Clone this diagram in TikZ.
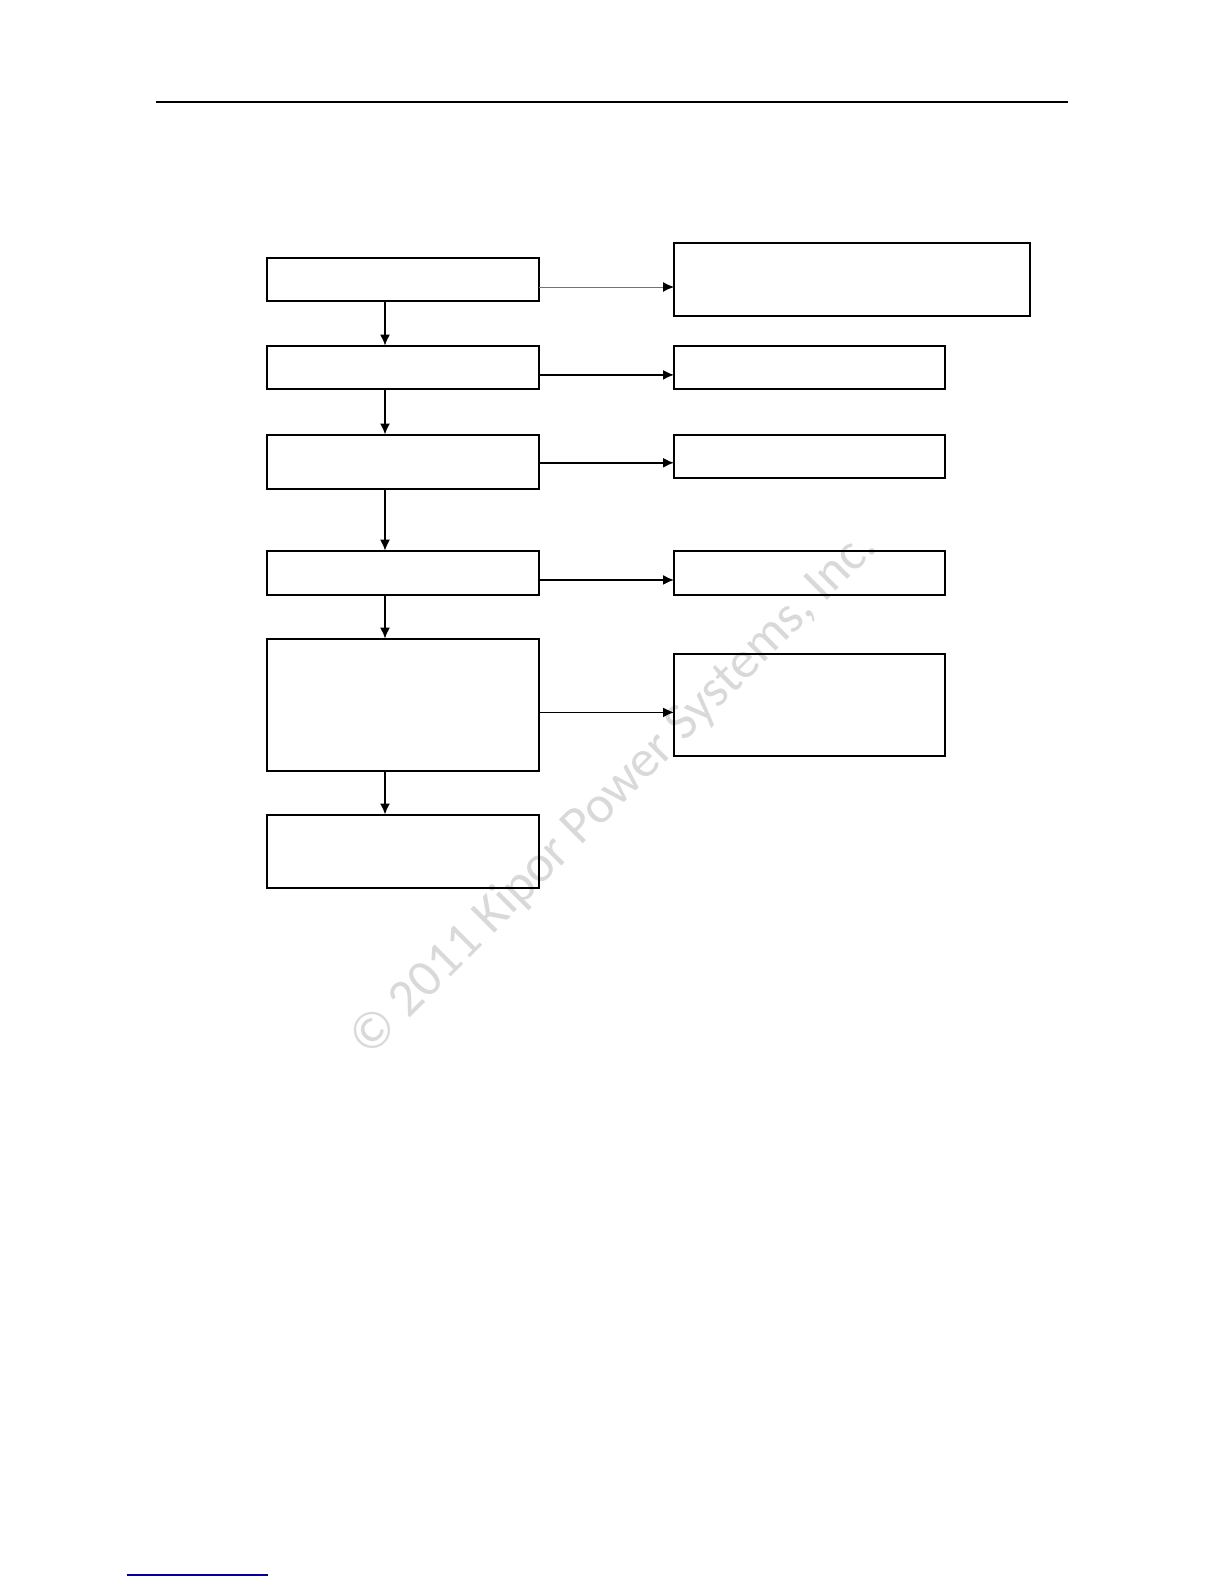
\documentclass[tikz,border=0pt]{standalone}
\usepackage{fontspec}
\setmainfont{Carlito}
\usetikzlibrary{arrows.meta}
\tikzset{
  box/.style={draw,line width=1pt,anchor=north west,inner sep=0pt,outer sep=0pt},
  flow/.style={-{Latex[length=5.5pt,width=5pt]},line width=0.8pt},
}
\begin{document}
\begin{tikzpicture}[x=0.5pt,y=-0.5pt]
    \useasboundingbox (0,0) rectangle (1224,1584);
    % watermark
    \node[text=black!15,rotate=45,font=\fontsize{26.3}{30}\selectfont] (wm) at (614,794) {© 2011 Kipor Power Systems, Inc.};
    % page rule and footer link line
    \draw[line width=1pt] (156,102) -- (1068,102);
    \draw[blue!60!black,line width=0.9pt] (127,1575) -- (268,1575);
    % left column
    \node[box,minimum width=135.9pt,minimum height=21.7pt] (l1) at (266.8,257.7) {};
    \node[box,minimum width=135.9pt,minimum height=21.7pt] (l2) at (266.8,345.6) {};
    \node[box,minimum width=135.9pt,minimum height=27.3pt] (l3) at (266.8,434.5) {};
    \node[box,minimum width=135.9pt,minimum height=22.25pt] (l4) at (266.8,550.7) {};
    \node[box,minimum width=135.9pt,minimum height=66.2pt] (l5) at (266.8,638.6) {};
    \node[box,minimum width=135.9pt,minimum height=36.85pt] (l6) at (266.8,814.5) {};
    % right column
    \node[box,minimum width=177.85pt,minimum height=36.9pt] (r1) at (674,242.5) {};
    \node[box,minimum width=135.4pt,minimum height=21.7pt] (r2) at (674,345.6) {};
    \node[box,minimum width=135.4pt,minimum height=21.75pt] (r3) at (674,434.5) {};
    \node[box,minimum width=135.4pt,minimum height=22.25pt] (r4) at (674,550.7) {};
    \node[box,minimum width=135.4pt,minimum height=51.05pt,line width=0.7pt] (r5) at (674,653.8) {};
    % arrows down
    \coordinate (ax) at (385,0);
    \draw[flow] (l1.south -| ax) -- (l2.north -| ax);
    \draw[flow] (l2.south -| ax) -- (l3.north -| ax);
    \draw[flow] (l3.south -| ax) -- (l4.north -| ax);
    \draw[flow] (l4.south -| ax) -- (l5.north -| ax);
    \draw[flow] (l5.south -| ax) -- (l6.north -| ax);
    % arrows across
    \draw[flow,line width=0.5pt,black!55,arrows={-{Latex[length=5.5pt,width=5pt,black]}}] ([yshift=-3.8pt]l1.east) -- ([yshift=-3.8pt]l1.east -| r1.west);
    \draw[flow] ([yshift=-3.8pt]l2.east) -- ([yshift=-3.8pt]l2.east -| r2.west);
    \draw[flow] ([yshift=-0.5pt]l3.east) -- ([yshift=-0.5pt]l3.east -| r3.west);
    \draw[flow] ([yshift=-3.5pt]l4.east) -- ([yshift=-3.5pt]l4.east -| r4.west);
    \draw[flow] ([yshift=-3.8pt]l5.east) -- ([yshift=-3.8pt]l5.east -| r5.west);
\end{tikzpicture}
\end{document}
